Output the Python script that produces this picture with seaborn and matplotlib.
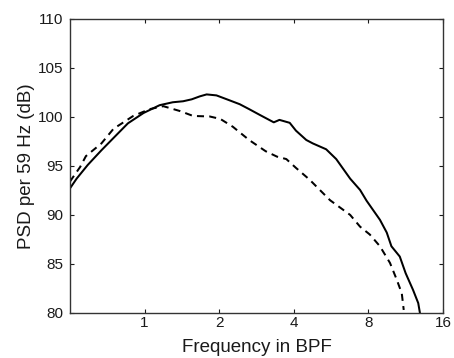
import numpy as np
import pandas as pd
import matplotlib
matplotlib.use("Agg")
import matplotlib.pyplot as plt
from matplotlib.ticker import FixedLocator, FixedFormatter, NullLocator
import seaborn as sns

# Solid curve
solid_f = [0.5, 0.532, 0.59, 0.67, 0.78, 0.857, 0.99, 1.15, 1.3, 1.43, 1.55, 1.67,
           1.78, 1.95, 2.2, 2.42, 2.64, 2.92, 3.32, 3.5, 3.85, 4.08, 4.49, 4.77,
           5.4, 5.93, 6.75, 7.4, 7.86, 8.35, 8.9, 9.48, 9.9, 10.7, 11.3, 12.1,
           12.7, 12.9]
solid_db = [92.7, 93.7, 95.1, 96.6, 98.3, 99.35, 100.4, 101.2, 101.5, 101.6, 101.8, 102.1,
            102.3, 102.2, 101.7, 101.3, 100.8, 100.2, 99.45, 99.7, 99.4, 98.6, 97.65, 97.3,
            96.7, 95.7, 93.7, 92.55, 91.45, 90.5, 89.5, 88.2, 86.8, 85.75, 84.05, 82.35,
            81.0, 80.0]

# Dashed curve
dashed_f = [0.5, 0.55, 0.58, 0.67, 0.75, 0.805, 0.9, 1.05, 1.19, 1.39, 1.57, 1.83,
            2.02, 2.27, 2.64, 3.08, 3.42, 3.73, 4.08, 4.63, 5.6, 6.75, 7.4, 8.1,
            8.9, 9.77, 10.4, 10.9, 11.1]
dashed_db = [93.4, 94.9, 96.0, 97.3, 98.8, 99.3, 100.1, 100.8, 101.1, 100.6, 100.1, 100.05,
             99.8, 99.0, 97.65, 96.5, 95.95, 95.7, 94.8, 93.6, 91.5, 90.0, 88.8, 88.0,
             86.8, 85.1, 83.4, 82.0, 80.3]

xticks = [1, 2, 4, 8, 16]
xtick_labels = ["1", "2", "4", "8", "16"]
yticks = [80, 85, 90, 95, 100, 105, 110]

df = pd.concat([
    pd.DataFrame({"f": solid_f, "psd": solid_db, "series": "solid"}),
    pd.DataFrame({"f": dashed_f, "psd": dashed_db, "series": "dashed"}),
])

sns.set_style("ticks")
plt.rcParams["font.family"] = ["Liberation Sans", "DejaVu Sans"]
plt.rcParams["xtick.direction"] = "in"
plt.rcParams["ytick.direction"] = "in"

fig = plt.figure(figsize=(4.54, 3.58), dpi=100)
ax = fig.add_axes([0.154, 0.126, 0.822, 0.821])

sns.lineplot(data=df, x="f", y="psd", hue="series", style="series",
             palette={"solid": "black", "dashed": "black"},
             dashes={"solid": "", "dashed": (3.5, 2.6)},
             linewidth=1.45, sort=False, legend=False, ax=ax, estimator=None)

ax.set_xscale("log", base=2)
ax.set_xlim(0.5, 16)
ax.set_ylim(80, 110)
ax.xaxis.set_major_locator(FixedLocator(xticks))
ax.xaxis.set_major_formatter(FixedFormatter(xtick_labels))
ax.xaxis.set_minor_locator(NullLocator())
ax.set_yticks(yticks)
ax.tick_params(axis="both", which="major", direction="in", length=3.2, width=0.8,
               labelsize=11, colors="#1a1a1a", top=True, right=True)
ax.tick_params(axis="x", pad=2.5)
ax.tick_params(axis="y", pad=5)
for side in ["left", "right", "top", "bottom"]:
    ax.spines[side].set_visible(True)
    ax.spines[side].set_color("#333333")
    ax.spines[side].set_linewidth(1.0)

ax.set_xlabel("Frequency in BPF", fontsize=13.5, color="#1a1a1a", labelpad=6)
ax.set_ylabel("PSD per 59 Hz (dB)", fontsize=13.5, color="#1a1a1a", labelpad=2)

fig.savefig("out.png", dpi=100)
